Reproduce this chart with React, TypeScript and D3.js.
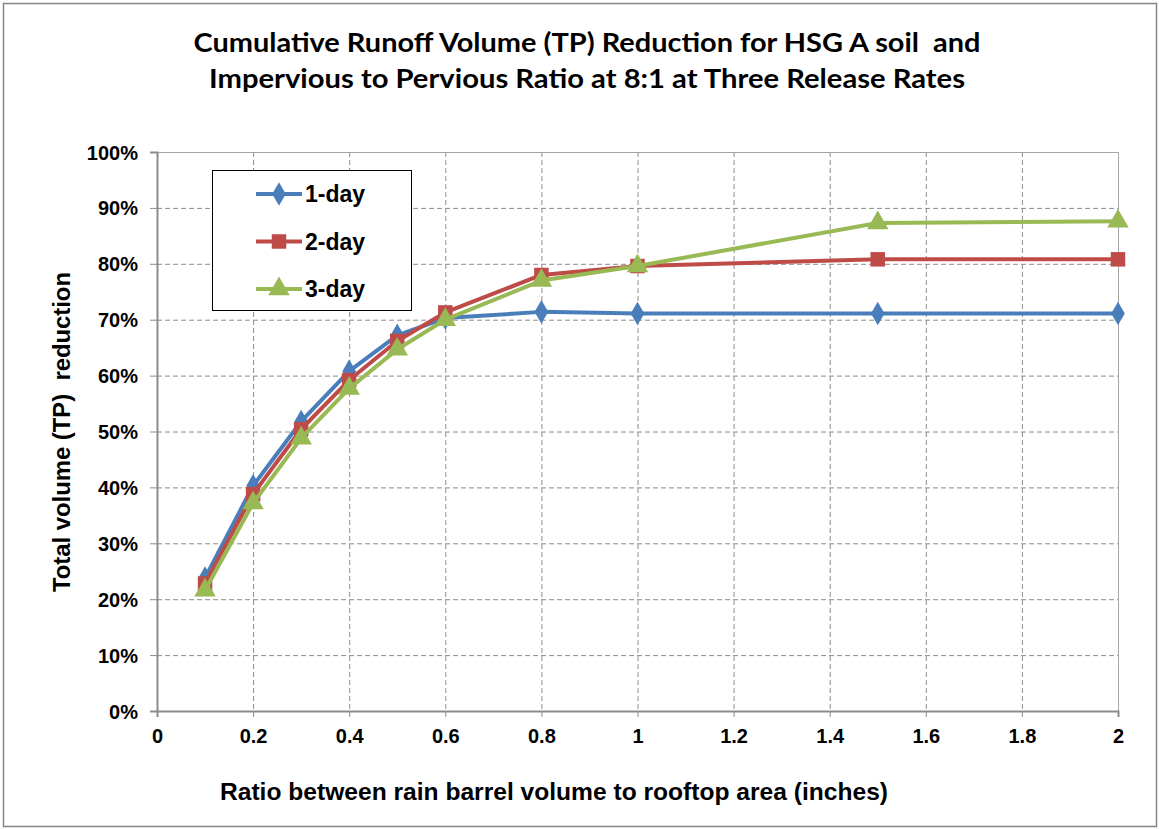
import { useEffect, useRef } from "react"
import * as d3 from "d3"

const xValues = [0.1, 0.2, 0.3, 0.4, 0.5, 0.6, 0.8, 1.0, 1.5, 2.0]
const oneDay = [23.8, 40.3, 51.8, 60.8, 67.2, 70.3, 71.4, 71.1, 71.1, 71.1]
const twoDay = [22.8, 38.8, 50.4, 59.2, 66.2, 71.3, 78.0, 79.6, 80.8, 80.8]
const threeDay = [21.6, 37.2, 48.8, 57.7, 64.7, 70.0, 77.0, 79.6, 87.3, 87.6]
const xTicks = [0, 0.2, 0.4, 0.6, 0.8, 1, 1.2, 1.4, 1.6, 1.8, 2]
const yTicks = [0, 10, 20, 30, 40, 50, 60, 70, 80, 90, 100]

const titleLines = [
  "Cumulative Runoff Volume (TP) Reduction for HSG A soil  and",
  "Impervious to Pervious Ratio at 8:1 at Three Release Rates",
]
const titleWidths = [787, 756]

const series = [
  { name: "1-day", values: oneDay, color: "#4A7EBB", marker: "diamond" },
  { name: "2-day", values: twoDay, color: "#BE4B48", marker: "square" },
  { name: "3-day", values: threeDay, color: "#98B954", marker: "triangle" },
]

const W = 1159
const H = 829
const ARIAL = "'Liberation Sans', Arial, sans-serif"

export default function App() {
  const ref = useRef<SVGSVGElement>(null)

  useEffect(() => {
    const svg = d3.select(ref.current)
    svg.selectAll("*").remove()

    const left = 157, right = 1118, top = 152, bottom = 711
    const x = d3.scaleLinear([0, 2], [left, right])
    const y = d3.scaleLinear([0, 100], [bottom, top])

    // chart frame
    svg.append("rect")
      .attr("x", 3.5).attr("y", 3.5)
      .attr("width", W - 6).attr("height", H - 6)
      .attr("fill", "white").attr("stroke", "#868686").attr("stroke-width", 1.5)

    // title
    svg.append("g").selectAll("text")
      .data(titleLines)
      .join("text")
      .attr("x", 587)
      .attr("y", (_, i) => 52 + i * 36)
      .attr("text-anchor", "middle")
      .attr("font-family", "Lato, sans-serif")
      .attr("font-weight", "bold")
      .attr("font-size", 26)
      .attr("fill", "#000")
      .attr("textLength", (_, i) => titleWidths[i])
      .attr("lengthAdjust", "spacingAndGlyphs")
      .style("white-space", "pre")
      .text(d => d)

    // grid
    const grid = svg.append("g")
    grid.selectAll(".gy")
      .data(yTicks.slice(1, -1))
      .join("line")
      .attr("x1", left).attr("x2", right)
      .attr("y1", d => y(d) + 0.5).attr("y2", d => y(d) + 0.5)
      .attr("stroke", "#8c8c8c").attr("stroke-dasharray", "5,3")
    grid.selectAll(".gx")
      .data(xTicks.slice(1, -1))
      .join("line")
      .attr("y1", top).attr("y2", bottom)
      .attr("x1", d => x(d) + 0.5).attr("x2", d => x(d) + 0.5)
      .attr("stroke", "#8c8c8c").attr("stroke-dasharray", "5,3")

    // plot border
    svg.append("rect")
      .attr("x", left + 0.5).attr("y", top + 0.5)
      .attr("width", right - left).attr("height", bottom - top)
      .attr("fill", "none").attr("stroke", "#a6a6a6").attr("stroke-width", 1)

    // axes
    const yAxis = svg.append("g")
      .attr("transform", `translate(${left},0)`)
      .call(d3.axisLeft(y).tickValues(yTicks).tickSize(7).tickPadding(12).tickFormat(d => `${d}%`))
    const xAxis = svg.append("g")
      .attr("transform", `translate(0,${bottom})`)
      .call(d3.axisBottom(x).tickValues(xTicks).tickSize(6).tickPadding(12).tickFormat(d => `${d}`))
    for (const ax of [xAxis, yAxis]) {
      ax.select(".domain").attr("stroke", "#8c8c8c").attr("stroke-width", 2)
      ax.selectAll(".tick line").attr("stroke", "#8c8c8c")
      ax.selectAll("text")
        .attr("font-family", ARIAL)
        .attr("font-weight", "bold")
        .attr("font-size", 20)
        .attr("fill", "#000")
    }
    yAxis.selectAll("text").attr("dy", "0.35em")

    // axis titles
    svg.append("text")
      .attr("x", 554).attr("y", 800)
      .attr("text-anchor", "middle")
      .attr("font-family", ARIAL)
      .attr("font-weight", "bold").attr("font-size", 24)
      .attr("textLength", 668)
      .attr("lengthAdjust", "spacingAndGlyphs")
      .text("Ratio between rain barrel volume to rooftop area (inches)")
    svg.append("text")
      .attr("transform", `translate(70,432) rotate(-90)`)
      .attr("text-anchor", "middle")
      .attr("font-family", ARIAL)
      .attr("font-weight", "bold").attr("font-size", 23)
      .attr("textLength", 320)
      .attr("lengthAdjust", "spacingAndGlyphs")
      .style("white-space", "pre")
      .text("Total volume (TP)  reduction")

    const markerPath = (m: string) => {
      if (m === "diamond") return d3.symbol(d3.symbolDiamond, 160)()
      if (m === "square") return d3.symbol(d3.symbolSquare, 210)()
      return d3.symbol(d3.symbolTriangle, 200)()
    }

    const line = d3.line<number>()
      .x((_, i) => x(xValues[i]))
      .y(d => y(d))

    for (const s of series) {
      const g = svg.append("g")
      g.append("path")
        .attr("d", line(s.values))
        .attr("fill", "none")
        .attr("stroke", s.color)
        .attr("stroke-width", 4)
        .attr("stroke-linejoin", "round")
      g.selectAll("path.m")
        .data(s.values)
        .join("path")
        .attr("class", "m")
        .attr("d", markerPath(s.marker))
        .attr("transform", (d, i) => `translate(${x(xValues[i])},${y(d)})`)
        .attr("fill", s.color)
    }

    // legend
    const lg = svg.append("g")
    lg.append("rect")
      .attr("x", 212.5).attr("y", 170.5)
      .attr("width", 199).attr("height", 140)
      .attr("fill", "white").attr("stroke", "#000").attr("stroke-width", 1)
    series.forEach((s, i) => {
      const cy = 194 + i * 47.5
      lg.append("line")
        .attr("x1", 256).attr("x2", 302)
        .attr("y1", cy).attr("y2", cy)
        .attr("stroke", s.color).attr("stroke-width", 4)
      lg.append("path")
        .attr("d", markerPath(s.marker))
        .attr("transform", `translate(279,${cy})`)
        .attr("fill", s.color)
      lg.append("text")
        .attr("x", 305).attr("y", cy)
        .attr("dy", "0.36em")
        .attr("font-family", ARIAL)
        .attr("font-weight", "bold").attr("font-size", 23)
        .text(s.name)
    })
  }, [])

  return (
    <>
      <style>{`body{margin:0}`}</style>
      <svg ref={ref} width={W} height={H} style={{ display: "block" }} />
    </>
  )
}
